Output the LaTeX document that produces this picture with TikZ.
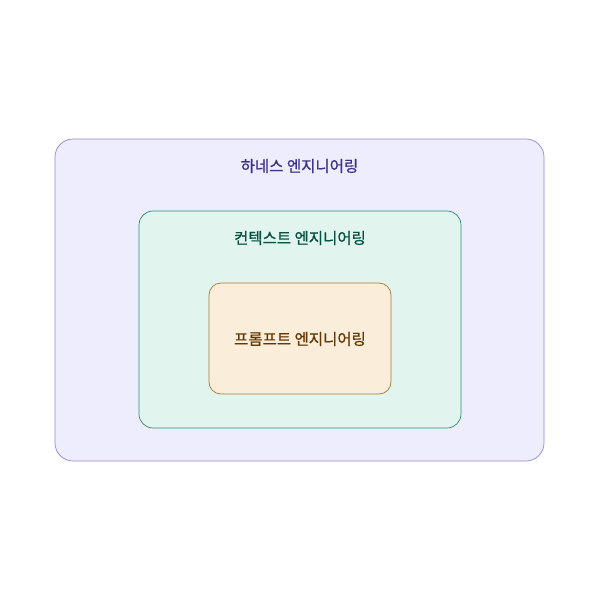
\documentclass[tikz,border=0pt]{standalone}
\usepackage{fontspec}
\newfontfamily\cjk{Noto Sans CJK KR}[FakeBold=0.8]
\definecolor{ofill}{HTML}{EEEDFE}\definecolor{odraw}{HTML}{8F86DC}\definecolor{otext}{HTML}{3C3489}
\definecolor{mfill}{HTML}{E1F5EE}\definecolor{mdraw}{HTML}{2E8A70}\definecolor{mtext}{HTML}{085041}
\definecolor{ifill}{HTML}{FAEEDA}\definecolor{idraw}{HTML}{A9773A}\definecolor{itext}{HTML}{633806}
\tikzset{box/.style={rounded corners=18pt,line width=0.7pt},
lbl/.style={font=\cjk\fontsize{15.5}{18}\selectfont}}
\begin{document}
\begin{tikzpicture}[x=1pt,y=-1pt]
\useasboundingbox (0,0) rectangle (600,600);
\draw[box,fill=ofill,draw=odraw] (55,139) rectangle (544,461);
\node[lbl,text=otext] (o) at (299.5,166) {하네스 엔지니어링};
\draw[box,rounded corners=14pt,fill=mfill,draw=mdraw] (139,211) rectangle (461,428);
\node[lbl,text=mtext] (m) at (300,238) {컨텍스트 엔지니어링};
\draw[box,rounded corners=12pt,fill=ifill,draw=idraw] (209,283) rectangle (391,394);
\node[lbl,text=itext] (i) at (300,339) {프롬프트 엔지니어링};
\end{tikzpicture}
\end{document}
